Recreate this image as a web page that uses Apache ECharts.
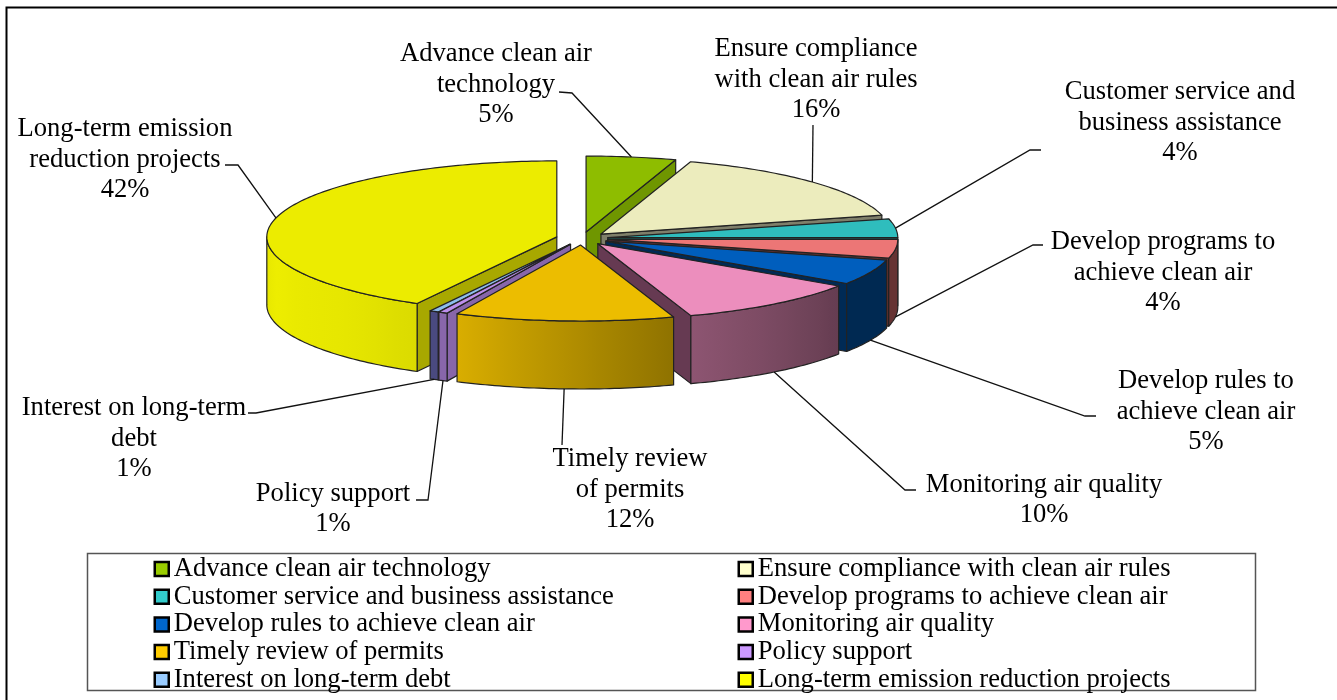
<!DOCTYPE html>
<html>
<head>
<meta charset="utf-8">
<style>html,body{margin:0;padding:0;background:#fff}#chart{width:1337px;height:700px}</style>
<script src="https://cdn.jsdelivr.net/npm/echarts@6/dist/echarts.min.js"></script>
</head>
<body>
<div id="chart"></div>
<script>
// ---- data ----
const categories = [
  'Advance clean air technology','Ensure compliance with clean air rules',
  'Customer service and business assistance','Develop programs to achieve clean air',
  'Develop rules to achieve clean air','Monitoring air quality',
  'Timely review of permits','Policy support','Interest on long-term debt',
  'Long-term emission reduction projects'];
const values = [5, 16, 4, 4, 5.4, 10.4, 12.2, 0.5, 0.5, 42];
const labelLines = [
  ['Advance clean air','technology'],['Ensure compliance','with clean air rules'],
  ['Customer service and','business assistance'],['Develop programs to','achieve clean air'],
  ['Develop rules to','achieve clean air'],['Monitoring air quality'],
  ['Timely review','of permits'],['Policy support'],['Interest on long-term','debt'],
  ['Long-term emission','reduction projects']];

// ---- styles ----
const baseColors = ['#99cc00','#ffffcc','#33cccc','#ff8080','#0066cc','#ff99cc','#ffcc00','#cc99ff','#99ccff','#ffff00'];
const wallColors = ['#6f9600','#7f7f6a','#1f6b6b','#663333','#002a55','#663a52','#8a7000','#8866aa','#4a4a80','#a8a800'];
const flatSideColors = {7:'#8866aa',8:'#4a4a80'};
const outerLight = [[90,.4],[125,.4],[160,.55],[205,.85],[225,.9],[255,.93],[270,.89]];
const FONT = '"Liberation Serif","Times New Roman",serif';
const FONT_SIZE = 26.6;
const OUTLINE = '#222';

// ---- layout ----
const pie = {cx:582, cy:238.5, a:290, b:76, depth:68, ex:26, ey:6.5};
// label block centre and the elbow of each leader line
const labelLayout = [
  {x:496,y:85,  elbow:[[572,93],[559,92]]},
  {x:816,y:80,  elbow:[[813,125]]},
  {x:1180,y:123,elbow:[[1030,150],[1041,150]]},
  {x:1163,y:273,elbow:[[1033,245],[1043,245]]},
  {x:1206,y:412,elbow:[[1085,416],[1096,416]]},
  {x:1044,y:500,elbow:[[905,490],[916,490]]},
  {x:630,y:490, elbow:[[562,445]]},
  {x:333,y:509, elbow:[[428,500],[416,500]]},
  {x:134,y:439, elbow:[[256,413],[248,413]]},
  {x:125,y:160, elbow:[[238,165],[225,165]]}];

// ---- geometry derived from values ----
const total = values.reduce((s,v)=>s+v,0);
const rad = d=>d*Math.PI/180;
let acc = 0;
const slices = values.map((v,i)=>{
  const start = acc/total*360; acc += v;
  const end = acc/total*360, mid = (start+end)/2;
  return {i,start,end,mid,
    ax:pie.cx+pie.ex*Math.sin(rad(mid)),
    ay:pie.cy-pie.ey*Math.cos(rad(mid))};
});
const rim = (s,t,drop)=>[s.ax+pie.a*Math.sin(rad(t)), s.ay-pie.b*Math.cos(rad(t))+(drop||0)];
const arc = (s,t0,t1,drop)=>{
  const pts=[], n=Math.max(2,Math.ceil(Math.abs(t1-t0)));
  for(let k=0;k<=n;k++) pts.push(rim(s,t0+(t1-t0)*k/n,drop));
  return pts;
};
function shade(hex,f){
  const n=parseInt(hex.slice(1),16);
  const c=[n>>16,(n>>8)&255,n&255].map(v=>Math.round(v*f));
  return 'rgb('+c.join(',')+')';
}
function lightAt(t){
  for(let k=1;k<outerLight.length;k++){
    if(t<=outerLight[k][0]){
      const p=outerLight[k-1],q=outerLight[k];
      return p[1]+(q[1]-p[1])*(t-p[0])/(q[0]-p[0]);
    }
  }
  return outerLight[outerLight.length-1][1];
}
function drawSlice(s){
  const base=baseColors[s.i], wall=wallColors[s.i], kids=[];
  const line={stroke:OUTLINE,lineWidth:1.2,lineJoin:'round'};
  const poly=(points,fill)=>kids.push({type:'polygon',shape:{points},style:Object.assign({fill},line)});
  const apex=[s.ax,s.ay], apexB=[s.ax,s.ay+pie.depth];
  // start wall faces the viewer on the left half, end wall on the right half
  if(s.start>180&&s.start<360){const r=rim(s,s.start);poly([apex,r,[r[0],r[1]+pie.depth],apexB],wall);}
  if(s.end>0&&s.end<180){const r=rim(s,s.end);poly([apex,r,[r[0],r[1]+pie.depth],apexB],wall);}
  // outer curved side
  const t0=Math.max(s.start,90), t1=Math.min(s.end,270);
  if(t1>t0){
    const top=arc(s,t0,t1), bottom=arc(s,t1,t0,pie.depth);
    const stops=[];
    const allX=top.map(p=>p[0]), lo=Math.min.apply(null,allX), hi=Math.max.apply(null,allX);
    for(let k=0;k<=12;k++){
      const t=t0+(t1-t0)*k/12, x=rim(s,t)[0];
      stops.push({offset:hi>lo?(x-lo)/(hi-lo):0,color:shade(base,lightAt(t))});
    }
    stops.sort((p,q)=>p.offset-q.offset);
    poly(top.concat(bottom),flatSideColors[s.i]||{type:'linear',x:0,y:0,x2:1,y2:0,colorStops:stops});
  }
  // top face
  poly([apex].concat(arc(s,s.start,s.end)),shade(base,.925));
  return {type:'group',children:kids};
}
function drawLabel(params,api){
  const s=slices[api.value(0)], lay=labelLayout[s.i];
  const front=Math.cos(rad(s.mid))<0;
  const anchor=rim(s,s.mid,front?pie.depth:0);
  const pct=Math.round(values[s.i]/total*100)+'%';
  return {type:'group',children:[
    {type:'polyline',shape:{points:[anchor].concat(lay.elbow)},style:{fill:null,stroke:'#111',lineWidth:1.3}},
    {type:'text',style:{text:labelLines[s.i].concat(pct).join('\n'),x:lay.x,y:lay.y,
      align:'center',verticalAlign:'middle',font:FONT_SIZE+'px '+FONT,lineHeight:30.5,fill:'#000'}}
  ]};
}

// back slices first, so that nearer ones cover them
const paintOrder = slices.slice().sort((p,q)=>Math.cos(rad(q.mid))-Math.cos(rad(p.mid)));
const pieSeries = paintOrder.map((s,rank)=>({
  type:'custom',name:categories[s.i],coordinateSystem:'none',z:2+rank*0.01,silent:true,
  itemStyle:{color:baseColors[s.i]},
  data:[[values[s.i]]],
  renderItem:()=>drawSlice(s)
}));
const labelSeries = {
  type:'custom',name:'labels',coordinateSystem:'none',z:3,silent:true,
  data:slices.map(s=>[s.i]),renderItem:drawLabel
};
const legendCommon = {
  orient:'vertical',top:555.5,height:144,padding:0,icon:'rect',itemWidth:14,itemHeight:14,itemGap:0.7,
  selectedMode:false,
  itemStyle:{borderColor:'#000',borderWidth:2.5},
  textStyle:{fontFamily:FONT,fontSize:FONT_SIZE,color:'#000',padding:[0,0,0,0]}
};
const chart = echarts.init(document.getElementById('chart'),null,{renderer:'canvas'});
chart.setOption({
  animation:false,backgroundColor:'#fff',
  legend:[
    Object.assign({},legendCommon,{left:153.5,data:categories.filter((c,i)=>i%2===0)}),
    Object.assign({},legendCommon,{left:737.5,data:categories.filter((c,i)=>i%2===1)})
  ],
  graphic:[
    {type:'polyline',z:-1,silent:true,shape:{points:[[6.5,700],[6.5,7.5],[1337,7.5]]},style:{fill:null,stroke:'#000',lineWidth:2}},
    {type:'rect',z:-1,silent:true,shape:{x:87.5,y:553.5,width:1168,height:137},style:{fill:null,stroke:'#555',lineWidth:1.5}}
  ],
  series:pieSeries.concat(labelSeries)
});
</script>
</body>
</html>
